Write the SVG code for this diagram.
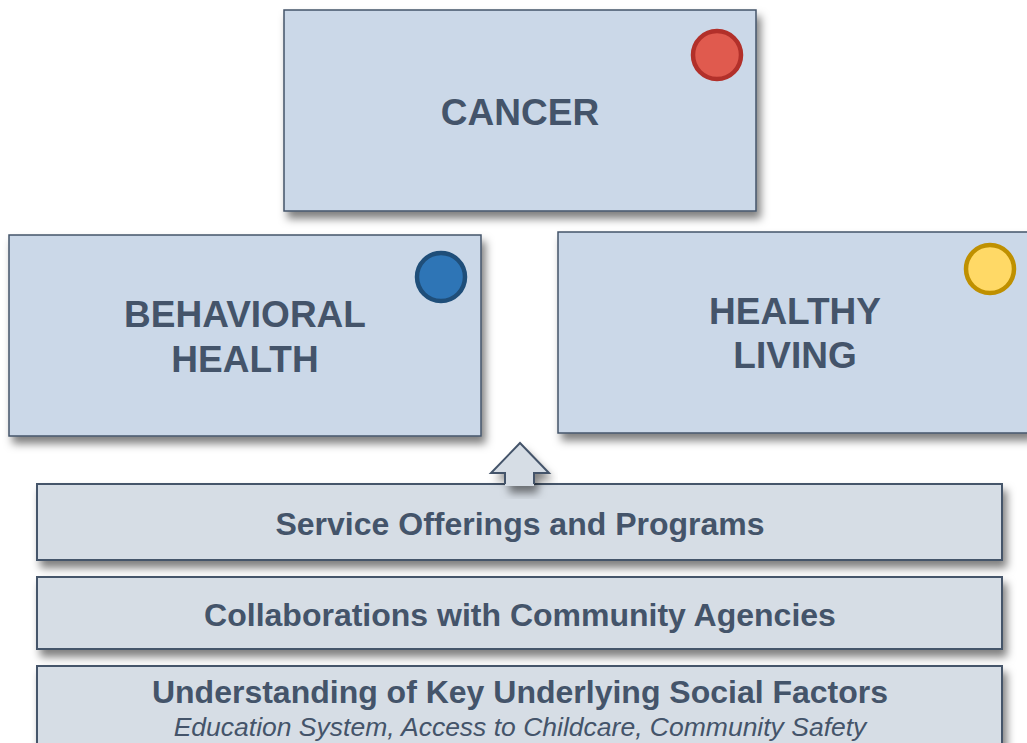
<svg xmlns="http://www.w3.org/2000/svg" width="1027" height="743" viewBox="0 0 1027 743">
<defs>
<filter id="sh" x="-10%" y="-10%" width="125%" height="140%">
<feDropShadow dx="4" dy="7" stdDeviation="4" flood-color="#000" flood-opacity="0.5"/>
</filter>
</defs>
<style>
.box{fill:#cbd8e8;stroke:#44546a;stroke-width:1.5}
.bar{fill:#d6dde5;stroke:#44546a;stroke-width:2}
.t{font-family:"Liberation Sans",Arial,sans-serif;font-weight:bold;fill:#44546a;text-anchor:middle}
.big{font-size:37px}
.mid{font-size:32px}
.it{font-family:"Liberation Sans",Arial,sans-serif;font-style:italic;font-size:26.5px;fill:#44546a;text-anchor:middle}
</style>
<rect width="1027" height="743" fill="#ffffff"/>
<g id="cancer">
<rect class="box" x="284" y="10" width="472" height="201" filter="url(#sh)"/>
<circle cx="717" cy="55" r="24" fill="#e05a4e" stroke="#b2302a" stroke-width="4.5"/>
<text class="t big" x="520" y="125">CANCER</text>
</g>
<g id="behavioral">
<rect class="box" x="9" y="235" width="472" height="201" filter="url(#sh)"/>
<circle cx="441" cy="277" r="24" fill="#2e75b6" stroke="#1f4e79" stroke-width="4.5"/>
<text class="t big" x="245" y="327">BEHAVIORAL</text>
<text class="t big" x="245" y="372">HEALTH</text>
</g>
<g id="healthy">
<rect class="box" x="558" y="232" width="472" height="201" filter="url(#sh)"/>
<circle cx="990" cy="269" r="24" fill="#ffd966" stroke="#bf9000" stroke-width="4.5"/>
<text class="t big" x="795" y="324">HEALTHY</text>
<text class="t big" x="795" y="368">LIVING</text>
</g>
<g id="bar-service">
<rect class="bar" x="37" y="484" width="965" height="76" filter="url(#sh)"/>
<text class="t mid" x="520" y="535">Service Offerings and Programs</text>
</g>
<g id="bar-collab">
<rect class="bar" x="37" y="577" width="965" height="72" filter="url(#sh)"/>
<text class="t mid" x="520" y="626">Collaborations with Community Agencies</text>
</g>
<g id="bar-understanding">
<rect class="bar" x="37" y="666" width="965" height="90" filter="url(#sh)"/>
<text class="t mid" x="520" y="703">Understanding of Key Underlying Social Factors</text>
<text class="it" x="520" y="736">Education System, Access to Childcare, Community Safety</text>
</g>
<g id="connectors">
<polygon points="520,443 549,473 534,473 534,486 505,486 505,473 491,473" fill="#d6dde5" filter="url(#sh)"/>
<polygon points="520,443 549,473 534,473 534,486 505,486 505,473 491,473" fill="#d6dde5"/>
<polyline points="505,484 505,473 491,473 520,443 549,473 534,473 534,484" fill="none" stroke="#44546a" stroke-width="2" stroke-linejoin="miter"/>
</g>
</svg>
